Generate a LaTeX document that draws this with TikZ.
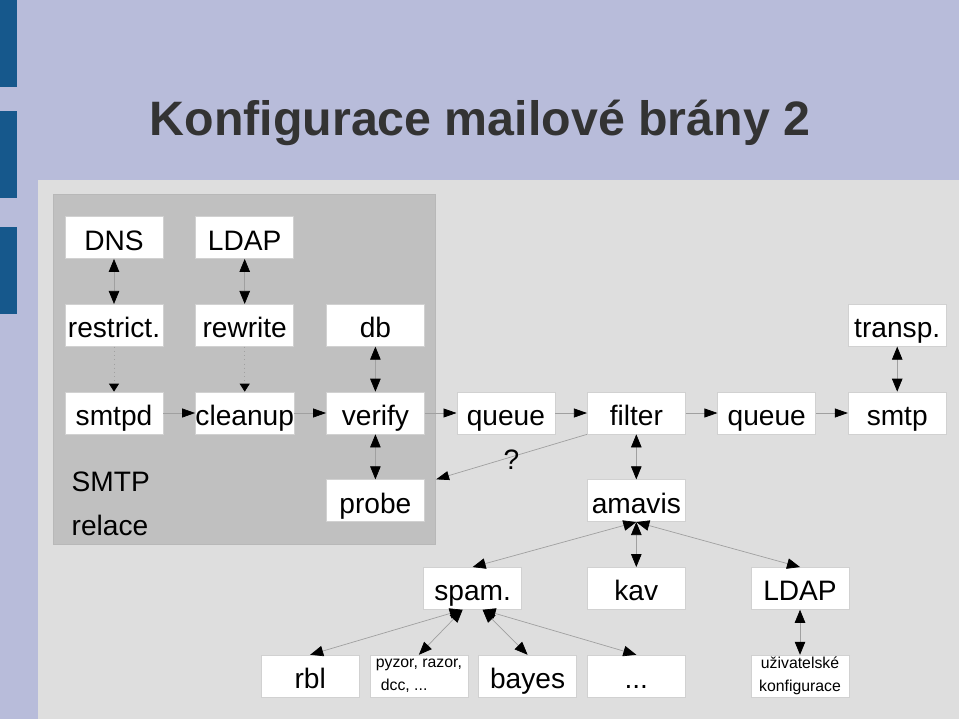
\documentclass[tikz,border=0pt]{standalone}
\usepackage{fontspec}
\setmainfont{Liberation Sans}
\usetikzlibrary{arrows.meta,positioning,fit,calc,backgrounds}
\definecolor{slideblue}{RGB}{184,188,218}
\definecolor{barblue}{RGB}{22,88,140}
\definecolor{panelgray}{RGB}{222,222,222}
\definecolor{relaygray}{RGB}{192,192,192}
\definecolor{titlegray}{RGB}{51,51,51}
\definecolor{linegray}{RGB}{160,160,160}

\begin{document}
\begin{tikzpicture}[
  node distance=0.9cm and 0.635cm,
  frame/.style={rectangle, draw=black!18, fill=white, minimum width=1.96cm, minimum height=0.84cm, inner sep=0pt},
  box/.style={frame, align=center, text height=0.6cm, text depth=0.1cm, font=\fontsize{16}{19}\selectfont},
  smallbox/.style={frame, align=left, font=\fontsize{9}{13}\selectfont},
  arr/.style={-{Triangle[length=0.26cm, width=0.18cm, black]}, draw=linegray},
  dbl/.style={{Triangle[length=0.26cm, width=0.21cm, black]}-{Triangle[length=0.26cm, width=0.21cm, black]}, draw=linegray},
  dotarr/.style={-{Triangle[length=0.16cm, width=0.2cm, black]}, draw=linegray, dotted}
]

  % --- slide background ---
  \begin{scope}[on background layer]
    \fill[slideblue] (0,0) rectangle (19.18,-14.38);
    \fill[panelgray] (0.76,-3.6) rectangle (19.18,-14.38);
    \foreach \y in {0,-2.22,-4.53} \fill[barblue] (0,\y) rectangle (0.34,{\y-1.74});
  \end{scope}
  \useasboundingbox (0,0) rectangle (19.18,-14.38);

  \node[font=\fontsize{27.5}{33}\selectfont\bfseries, text=titlegray, anchor=base] (title) at (9.6,-2.72) {Konfigurace mailové brány 2};

  % --- 1. MAIN MAIL PATH ---
  \node[box] (smtpd) at (2.28,-8.26) {smtpd};
  \node[box, right=of smtpd] (cleanup) {cleanup};
  \node[box, right=of cleanup] (verify) {verify};
  \node[box, right=of verify] (queue) {queue};
  \node[box, right=of queue] (filter) {filter};
  \node[box, right=of filter] (queueb) {queue};
  \node[box, right=of queueb] (smtp) {smtp};

  % lookups above / below
  \node[box, above=of smtpd] (restrict) {restrict.};
  \node[box, above=of restrict] (dns) {DNS};
  \node[box, above=of cleanup] (rewrite) {rewrite};
  \node[box, above=of rewrite] (ldap) {LDAP};
  \node[box, above=of verify] (db) {db};
  \node[box, above=of smtp] (transp) {transp.};
  \node[box, below=of verify] (probe) {probe};

  % --- 2. CONTENT FILTER ---
  \node[box, below=of filter] (amavis) {amavis};
  \node[box, below=of amavis] (kav) {kav};
  \node[box, left=1.3cm of kav] (spam) {spam.};
  \node[box, right=1.3cm of kav] (ldapb) {LDAP};
  \node[box, below=of kav] (more) {...};
  \node[box, left=0.2cm of more] (bayes) {bayes};
  \node[smallbox, left=0.2cm of bayes] (pyzor) {pyzor, razor,\\\hspace*{0.1cm}dcc, ...};
  \node[box, left=0.2cm of pyzor] (rbl) {rbl};
  \node[smallbox, align=center, below=of ldapb] (userconf) {uživatelské\\konfigurace};

  % Grey box round the SMTP relay part
  \begin{scope}[on background layer]
    \node[draw=black!28, fill=relaygray, inner xsep=0.22cm, inner ysep=0.44cm, fit=(dns) (probe)] (relay) {};
  \end{scope}
  \node[align=left, anchor=south west, inner sep=0pt, font=\fontsize{16}{25}\selectfont] (relaylabel) at ($(relay.south west)+(0.36,0.16)$) {SMTP\\relace};
  \coordinate (relayin) at (relay.east |- probe.north);

  % Connections
  \draw[dbl] (dns) -- (restrict);
  \draw[dbl] (ldap) -- (rewrite);
  \draw[dotarr] (restrict) -- (smtpd);
  \draw[dotarr] (rewrite) -- (cleanup);
  \draw[dbl] (db) -- (verify);
  \draw[dbl] (verify) -- (probe);
  \draw[dbl] (transp) -- (smtp);
  \foreach \a/\b in {smtpd/cleanup, cleanup/verify, verify/queue, queue/filter, filter/queueb, queueb/smtp}
    \draw[arr] (\a) -- (\b);
  \draw[arr] (filter.south west) -- node[midway, yshift=-0.06cm, font=\fontsize{16}{19}\selectfont] (qmark) {?} (relayin);

  \draw[dbl] (filter) -- (amavis);
  \foreach \t in {spam, kav, ldapb}
    \draw[dbl] (amavis.south) -- (\t.north);
  \foreach \t in {rbl, pyzor}
    \draw[dbl] ([xshift=-0.2cm]spam.south) -- (\t.north);
  \foreach \t in {bayes, more}
    \draw[dbl] ([xshift=0.2cm]spam.south) -- (\t.north);
  \draw[dbl] (ldapb) -- (userconf);

\end{tikzpicture}
\end{document}
